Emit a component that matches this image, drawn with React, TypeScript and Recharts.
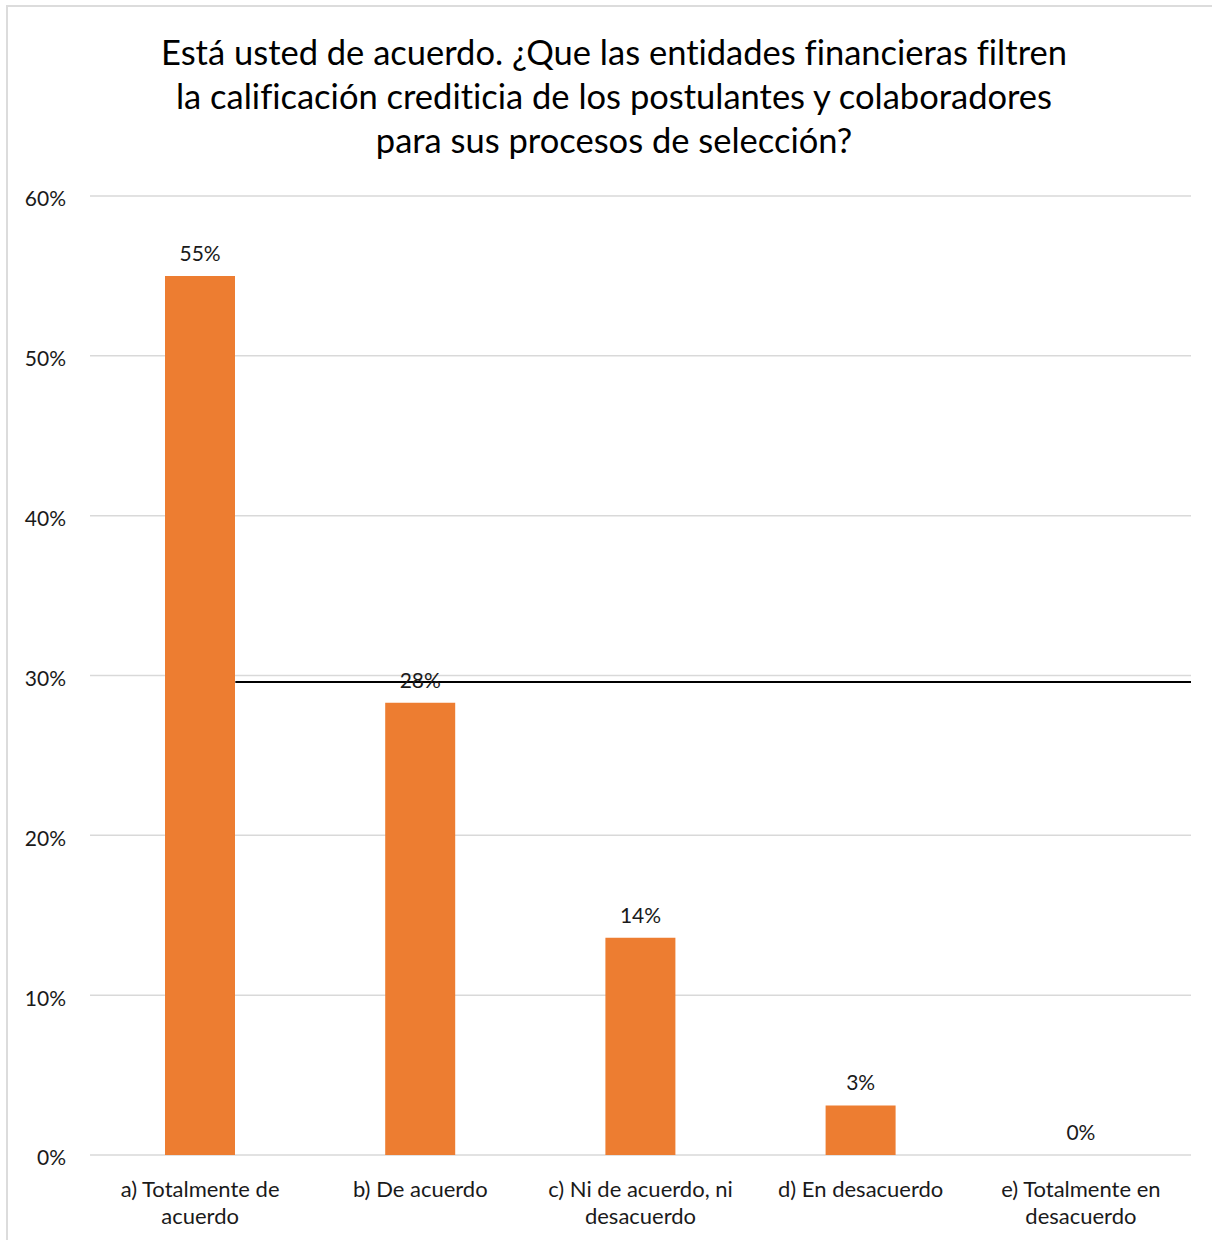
import { ComposedChart, Bar, Line, XAxis, YAxis, CartesianGrid, LabelList, ReferenceLine } from 'recharts';

const FONT = 'Lato, "Liberation Sans", sans-serif';
const ORANGE = '#ED7D31';

const titleLines = [
    'Está usted de acuerdo. ¿Que las entidades financieras filtren',
    'la calificación crediticia de los postulantes y colaboradores',
    'para sus procesos de selección?',
];

const categories = [
    'a) Totalmente de\nacuerdo',
    'b) De acuerdo',
    'c) Ni de acuerdo, ni\ndesacuerdo',
    'd) En desacuerdo',
    'e) Totalmente en\ndesacuerdo',
];
const percentages = [55.0, 28.3, 13.6, 3.1, 0];
const yTicks = [0, 10, 20, 30, 40, 50, 60];

// the black line that crosses the chart (in category units on a hidden axis)
const markerValue = 29.6;
const markerFrom = 0.66;
const markerTo = categories.length;

const data = categories.map((cat, i) => ({ cat, pos: i + 0.5, value: percentages[i] }));

const CategoryTick = ({ x, y, payload }: any) => {
    const lines = String(payload.value).split('\n');
    return (
        <text x={x} y={y} textAnchor="middle" fill="#1a1a1a" fontSize={22} fontFamily={FONT} style={{ fontVariantLigatures: 'none' }}>
            {lines.map((line, i) => (
                <tspan key={i} x={x} dy={i === 0 ? 34 : 27}>{line}</tspan>
            ))}
        </text>
    );
};

export default function App() {
    return (
        <div style={{ position: 'fixed', inset: 0, overflow: 'hidden', background: '#fff' }}>
            <div style={{ position: 'absolute', left: 6, top: 5, width: 1300, height: 1300, border: '2px solid #dcdcdc' }} />
            <div
                style={{
                    position: 'absolute',
                    left: 14,
                    top: 30,
                    width: 1200,
                    textAlign: 'center',
                    fontFamily: FONT,
                    fontSize: 34.5,
                    lineHeight: '44px',
                    color: '#000',
                    fontVariantLigatures: 'none',
                }}
            >
                {titleLines.map((l, i) => <div key={i}>{l}</div>)}
            </div>
            <div style={{ position: 'absolute', left: 0, top: 0 }}>
                <ComposedChart width={1212} height={1240} data={data} margin={{ top: 196, right: 21, bottom: 25, left: 0 }}>
                    <CartesianGrid vertical={false} stroke="#d9d9d9" strokeWidth={1.5} />
                    <XAxis dataKey="cat" axisLine={false} tickLine={false} height={60} interval={0} tick={<CategoryTick />} />
                    <XAxis
                        xAxisId="marker"
                        dataKey="pos"
                        type="number"
                        domain={[0, categories.length]}
                        padding={{ left: 0, right: 0 }}
                        hide
                        allowDataOverflow
                    />
                    <YAxis
                        domain={[0, 60]}
                        ticks={yTicks}
                        width={90}
                        axisLine={false}
                        tickLine={false}
                        tickSize={0}
                        tickMargin={24}
                        tickFormatter={(v) => `${v}%`}
                        tick={{ fill: '#1a1a1a', fontSize: 21, fontFamily: FONT, dy: 3 }}
                    />
                    <Bar dataKey="value" fill={ORANGE} barSize={70} isAnimationActive={false} />
                    <Line
                        dataKey="value"
                        stroke="none"
                        dot={false}
                        activeDot={false}
                        isAnimationActive={false}
                    >
                        <LabelList
                            dataKey="value"
                            position="top"
                            offset={15}
                            formatter={(v: number) => `${Math.round(v)}%`}
                            style={{ fill: '#1a1a1a', fontSize: 21, fontFamily: FONT }}
                        />
                    </Line>
                    <ReferenceLine
                        xAxisId="marker"
                        segment={[{ x: markerFrom, y: markerValue }, { x: markerTo, y: markerValue }]}
                        stroke="#000"
                        strokeWidth={2}
                        ifOverflow="hidden"
                    />
                </ComposedChart>
            </div>
        </div>
    );
}
